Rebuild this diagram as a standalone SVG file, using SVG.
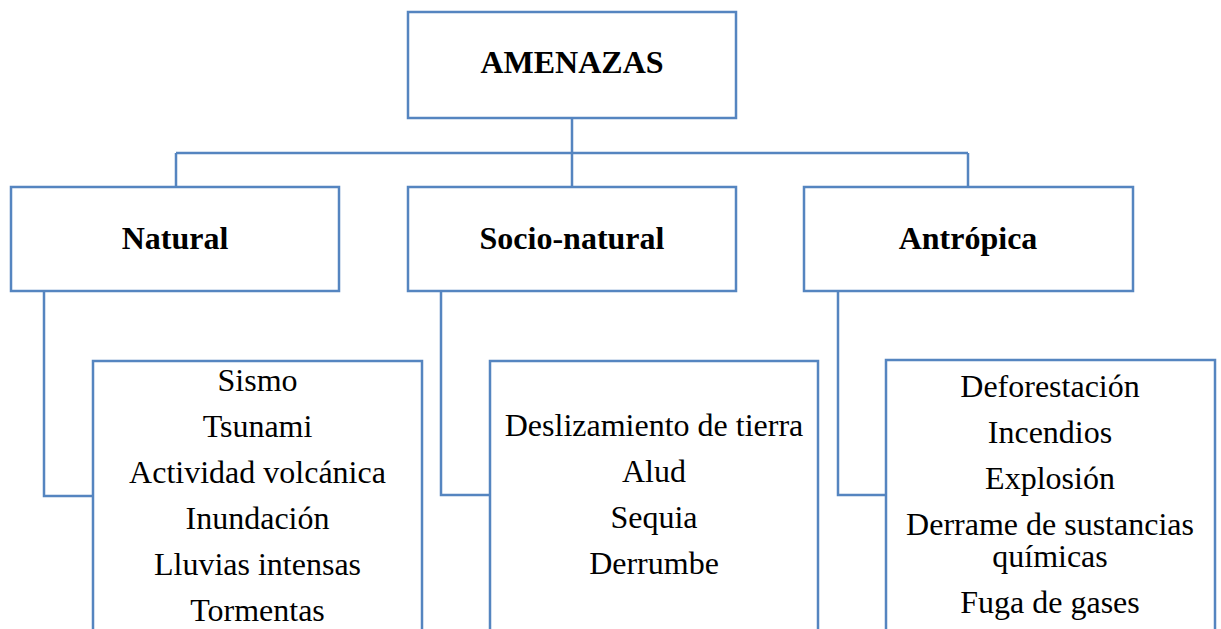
<svg xmlns="http://www.w3.org/2000/svg" width="1221" height="629" viewBox="0 0 1221 629">
<style>
.box{fill:#fff;stroke:#5585c0;stroke-width:2.5}
.con{fill:none;stroke:#5585c0;stroke-width:2.5}
.t{font-family:"Liberation Serif","Times New Roman",serif;font-size:32px;fill:#000;text-anchor:middle}
.b{font-weight:bold}
</style>
<rect width="1221" height="629" fill="#fff"/>
<g id="connectors">
<path class="con" d="M572,118 V153 M176,153 H968 M176,153 V187 M572,153 V187 M968,153 V187"/>
<path class="con" d="M44,291 V496 H93"/>
<path class="con" d="M441,291 V495 H490"/>
<path class="con" d="M838,291 V495 H886"/>
</g>
<g id="amenazas">
<rect class="box" x="408" y="12" width="328" height="106"/>
<text class="t b" x="572" y="73">AMENAZAS</text>
</g>
<g id="natural">
<rect class="box" x="11" y="187" width="328" height="104"/>
<text class="t b" x="175" y="249">Natural</text>
</g>
<g id="socio-natural">
<rect class="box" x="408" y="187" width="328" height="104"/>
<text class="t b" x="572" y="249">Socio-natural</text>
</g>
<g id="antropica">
<rect class="box" x="804" y="187" width="329" height="104"/>
<text class="t b" x="968" y="249">Antrópica</text>
</g>
<g id="natural-list">
<rect class="box" x="93" y="361" width="329" height="280"/>
<text class="t" x="257.5" y="391">Sismo</text>
<text class="t" x="257.5" y="437">Tsunami</text>
<text class="t" x="257.5" y="483">Actividad volcánica</text>
<text class="t" x="257.5" y="529">Inundación</text>
<text class="t" x="257.5" y="575">Lluvias intensas</text>
<text class="t" x="257.5" y="621">Tormentas</text>
</g>
<g id="socio-list">
<rect class="box" x="490" y="361" width="328" height="280"/>
<text class="t" x="654" y="436">Deslizamiento de tierra</text>
<text class="t" x="654" y="482">Alud</text>
<text class="t" x="654" y="528">Sequia</text>
<text class="t" x="654" y="574">Derrumbe</text>
</g>
<g id="antropica-list">
<rect class="box" x="886" y="360" width="329" height="281"/>
<text class="t" x="1050" y="397">Deforestación</text>
<text class="t" x="1050" y="443">Incendios</text>
<text class="t" x="1050" y="489">Explosión</text>
<text class="t" x="1050" y="535">Derrame de sustancias</text>
<text class="t" x="1050" y="567">químicas</text>
<text class="t" x="1050" y="613">Fuga de gases</text>
</g>
</svg>
